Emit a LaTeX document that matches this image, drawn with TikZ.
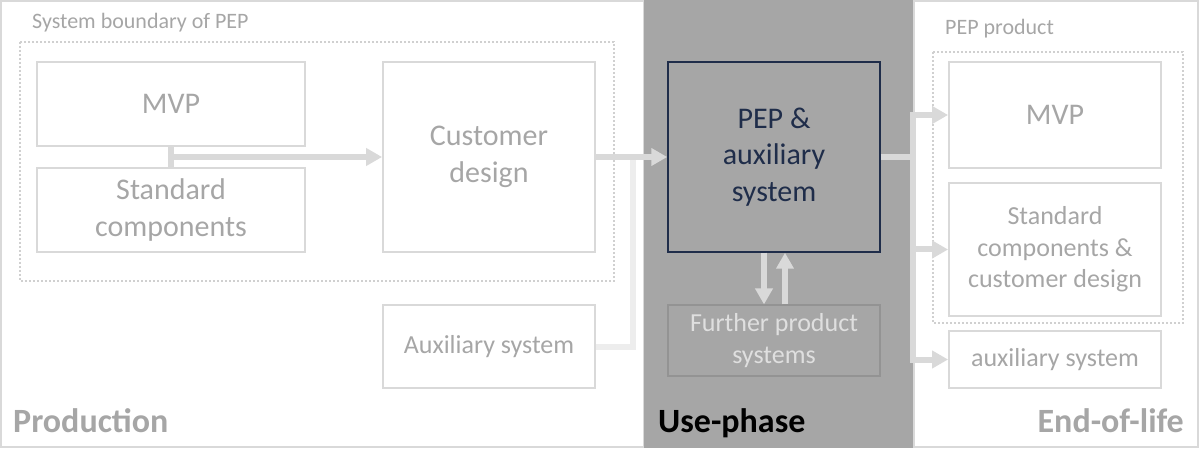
\documentclass[tikz,border=0pt]{standalone}
\usepackage{fontspec}
\setmainfont{Carlito}
\usetikzlibrary{arrows.meta,calc}
\definecolor{boxline}{HTML}{D9D9D9}
\definecolor{txtgrey}{HTML}{A6A6A6}
\definecolor{phasegrey}{HTML}{A6A6A6}
\definecolor{navy}{HTML}{1F2D4A}
\definecolor{dotgrey}{HTML}{D0D0D0}
\definecolor{auxline}{HTML}{EDEDED}
\tikzset{
  box/.style={rectangle, draw=boxline, line width=1.8pt, inner sep=0pt, align=center,
    text=txtgrey, font=\fontsize{30}{36.6}\selectfont},
  smallbox/.style={box, font=\fontsize{26}{31.7}\selectfont},
  flow/.style={draw=boxline, line width=6pt, -{Triangle[length=16pt,width=17pt]}},
  flowline/.style={draw=boxline, line width=6pt},
  boundary/.style={draw=dotgrey, line width=2pt, dash pattern=on 2pt off 2pt},
  phase/.style={font=\fontsize{34}{40}\selectfont\bfseries, text=txtgrey, inner sep=0pt},
  caption/.style={font=\fontsize{22}{26}\selectfont, text=txtgrey, inner sep=0pt}
}
\begin{document}
\begin{tikzpicture}[x=1pt,y=-1pt]
  \useasboundingbox (0,0) rectangle (1200,449);
  \draw[boxline, line width=1.5pt] (1,1) rectangle (644,447);
  \fill[phasegrey] (644,0) rectangle (914,448);
  \draw[boxline, line width=1.5pt] (914,1) rectangle (1198,447);

  \draw[boundary] (20,42) rectangle (614,281);
  \node[caption, anchor=base west] (sysbound) at (32,29) {System boundary of PEP};
  \draw[boundary] (933,52) rectangle (1183,323);
  \node[caption, anchor=base west] (pepprod) at (945,35) {PEP product};

  \node[box, minimum width=268pt, minimum height=84pt] (mvp) at (171,104) {MVP};
  \node[box, minimum width=268pt, minimum height=84pt] (stdcomp) at (171,210) {Standard\\components};
  \node[box, minimum width=212pt, minimum height=190pt] (custdesign) at (489,157) {Customer\\design};
  \node[smallbox, minimum width=212pt, minimum height=83pt] (auxsys) at (489,346.5) {Auxiliary system};

  \node[box, draw=navy, line width=1.5pt, text=navy, minimum width=212pt, minimum height=190pt] (pep) at (774,157) {PEP \&\\auxiliary\\system};
  \node[smallbox, draw=gray!85, line width=1.2pt, text=boxline!85!white, minimum width=212pt, minimum height=71pt] (further) at (774,340.5) {Further product\\systems};

  \node[box, minimum width=212pt, minimum height=106pt] (eolmvp) at (1055,115) {MVP};
  \node[smallbox, minimum width=212pt, minimum height=133pt] (eolstd) at (1055,249.5) {Standard\\components \&\\customer design};
  \node[smallbox, minimum width=212pt, minimum height=57pt] (eolaux) at (1055,359.5) {auxiliary system};

  \coordinate (junc) at ($(mvp.south)!0.5!(stdcomp.north)$);
  \coordinate (merge) at (633,157);
  \coordinate (split) at (913,157);

  \draw[flowline] (mvp.south) -- (stdcomp.north);
  \draw[flow] (junc) -- (custdesign.west);
  \draw[draw=auxline, line width=6pt] (auxsys.east) -| (merge);
  \draw[flow] (custdesign.east) -- (pep.west);
  \draw[flow] ([xshift=-10pt]pep.south) -- ([xshift=-10pt]further.north);
  \draw[flow] ([xshift=11pt]further.north) -- ([xshift=11pt]pep.south);
  \draw[flowline] (pep.east) -- (split);
  \draw[flow] (split) |- (eolmvp.west);
  \draw[flow] (split) |- (eolstd.west);
  \draw[flow] (split) |- (eolaux.west);

  \node[phase, anchor=base west] (production) at (13,432) {Production};
  \node[phase, anchor=base west, text=black] (usephase) at (658,432) {Use-phase};
  \node[phase, anchor=base east] (endoflife) at (1184,432) {End-of-life};
\end{tikzpicture}
\end{document}
